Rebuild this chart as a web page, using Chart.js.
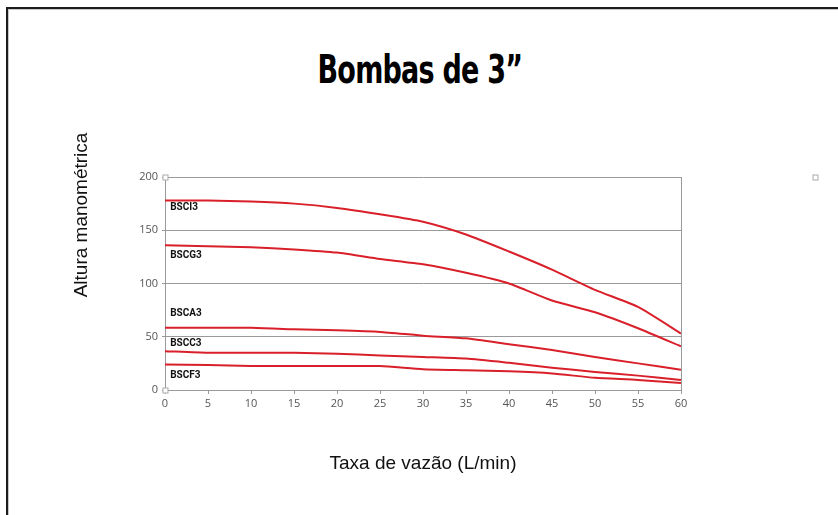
<!DOCTYPE html>
<html>
<head>
<meta charset="utf-8">
<script src="https://cdn.jsdelivr.net/npm/chart.js@4"></script>
<style>
  html, body { margin: 0; padding: 0; background: #fff; }
  body { width: 838px; height: 515px; position: relative; overflow: hidden; }
  .frame {
    position: absolute; left: 6px; top: 7px; width: 900px; height: 600px;
    border-left: 2px solid #1c1c1c; border-top: 2px solid #1c1c1c;
    box-shadow: inset 1px 1px 0 #c8c8c8;
  }
  h1 {
    position: absolute; left: 0; top: 45px; width: 838px; margin: 0;
    text-align: center; font-family: "DejaVu Sans Condensed", "DejaVu Sans", sans-serif;
    font-weight: bold; font-size: 39px; line-height: 50px; letter-spacing: -1px;
    color: #000; transform: scaleX(0.77); transform-origin: 423px 0;
  }
  #wrap { position: absolute; left: 0; top: 0; width: 838px; height: 515px; }
</style>
</head>
<body>
<div class="frame"></div>
<h1>Bombas de 3”</h1>
<div id="wrap"><canvas id="chart"></canvas></div>
<script>
// flow rate (L/min)
const xValues = [0, 5, 10, 15, 20, 25, 30, 35, 40, 45, 50, 55, 60];

// pump names and curves (head)
const seriesNames = ['BSCI3', 'BSCG3', 'BSCA3', 'BSCC3', 'BSCF3'];
const bsci3 = [178, 178, 177, 175, 171, 165, 158, 146, 130, 113, 94, 78, 53];
const bscg3 = [136, 135, 134, 132, 129, 123, 118, 110, 100, 84, 73, 58, 41];
const bsca3 = [58.5, 58.5, 58.5, 57, 56, 54.5, 51, 48.5, 43, 37.5, 31, 25, 19];
const bscc3 = [36.5, 35, 35, 35, 34, 32.5, 31, 29.5, 25.5, 21, 17, 13.5, 9.5];
const bscf3 = [24, 23.5, 22.5, 22.5, 22.5, 22.5, 19.5, 18.5, 17.5, 15.5, 11.5, 9.5, 6.5];

// where the pump names sit (x, y in data units)
const labelX = 0.6;
const labelY = [171, 126, 72, 44, 14];

const yTicks = [0, 50, 100, 150, 200];
const yTitle = 'Altura manométrica';

const allSeries = [bsci3, bscg3, bsca3, bscc3, bscf3];
const red = '#d9202a';

// pump name labels, y title (sits above the axis centre) and grey handle squares
const curveLabels = {
  id: 'curveLabels',
  afterDatasetsDraw(chart) {
    const { ctx, scales: { x, y }, chartArea } = chart;
    ctx.save();
    ctx.font = 'bold 10px Roboto, sans-serif';
    ctx.fillStyle = '#111';
    ctx.textBaseline = 'middle';
    ctx.textAlign = 'left';
    seriesNames.forEach((name, i) => {
      ctx.fillText(name, x.getPixelForValue(labelX), y.getPixelForValue(labelY[i]));
    });

    ctx.save();
    ctx.translate(82, 215);
    ctx.rotate(-Math.PI / 2);
    ctx.textAlign = 'center';
    ctx.font = "19px 'Liberation Sans', Arial, sans-serif";
    ctx.fillText(yTitle, 0, 0);
    ctx.restore();

    // selection handles left in the original
    ctx.strokeStyle = '#aaa';
    ctx.fillStyle = '#fff';
    ctx.lineWidth = 1;
    const sq = (cx, cy) => {
      ctx.fillRect(cx - 2.5, cy - 2.5, 5, 5);
      ctx.strokeRect(cx - 2.5, cy - 2.5, 5, 5);
    };
    sq(chartArea.left + 0.5, chartArea.top + 0.5);
    sq(chartArea.left + 0.5, chartArea.bottom + 0.5);
    sq(815.5, chartArea.top + 0.5);
    ctx.restore();
  }
};

const ctx = document.getElementById('chart');
new Chart(ctx, {
  type: 'line',
  data: {
    labels: xValues,
    datasets: seriesNames.map((name, i) => ({
      label: name,
      data: xValues.map((xv, j) => ({ x: xv, y: allSeries[i][j] })),
      borderColor: red,
      borderWidth: 2,
      pointRadius: 0,
      tension: 0.2,
      fill: false
    }))
  },
  options: {
    responsive: true,
    maintainAspectRatio: false,
    animation: false,
    layout: { padding: { left: 0, right: 157, top: 177, bottom: 0 } },
    plugins: {
      legend: { display: false },
      tooltip: { enabled: false },
      title: { display: false }
    },
    scales: {
      x: {
        type: 'linear',
        min: 0,
        max: 60,
        afterFit: (scale) => { scale.height = 125; },
        ticks: {
          stepSize: 5,
          color: '#555',
          padding: 3,
          maxRotation: 0,
          font: { family: "'Open Sans', sans-serif", size: 11 }
        },
        grid: {
          color: (c) => (c.tick && c.tick.value === 60 ? '#9a9a9a' : 'rgba(0,0,0,0)'),
          tickColor: '#9a9a9a',
          tickLength: 4
        },
        border: { color: '#9a9a9a', width: 1 },
        title: {
          display: true,
          text: 'Taxa de vazão (L/min)',
          color: '#111',
          font: { family: "'Liberation Sans', Arial, sans-serif", size: 19 },
          padding: { top: 0, bottom: 40 }
        }
      },
      y: {
        min: 0,
        max: 200,
        afterFit: (scale) => { scale.width = 165; },
        afterBuildTicks: (scale) => { scale.ticks = yTicks.map(v => ({ value: v })); },
        ticks: {
          color: '#555',
          padding: 4,
          font: { family: "'Open Sans', sans-serif", size: 11 }
        },
        grid: {
          color: '#9a9a9a',
          tickColor: '#9a9a9a',
          tickLength: 3
        },
        border: { color: '#9a9a9a', width: 1 },
        title: { display: false }
      }
    }
  },
  plugins: [curveLabels]
});
</script>
</body>
</html>
